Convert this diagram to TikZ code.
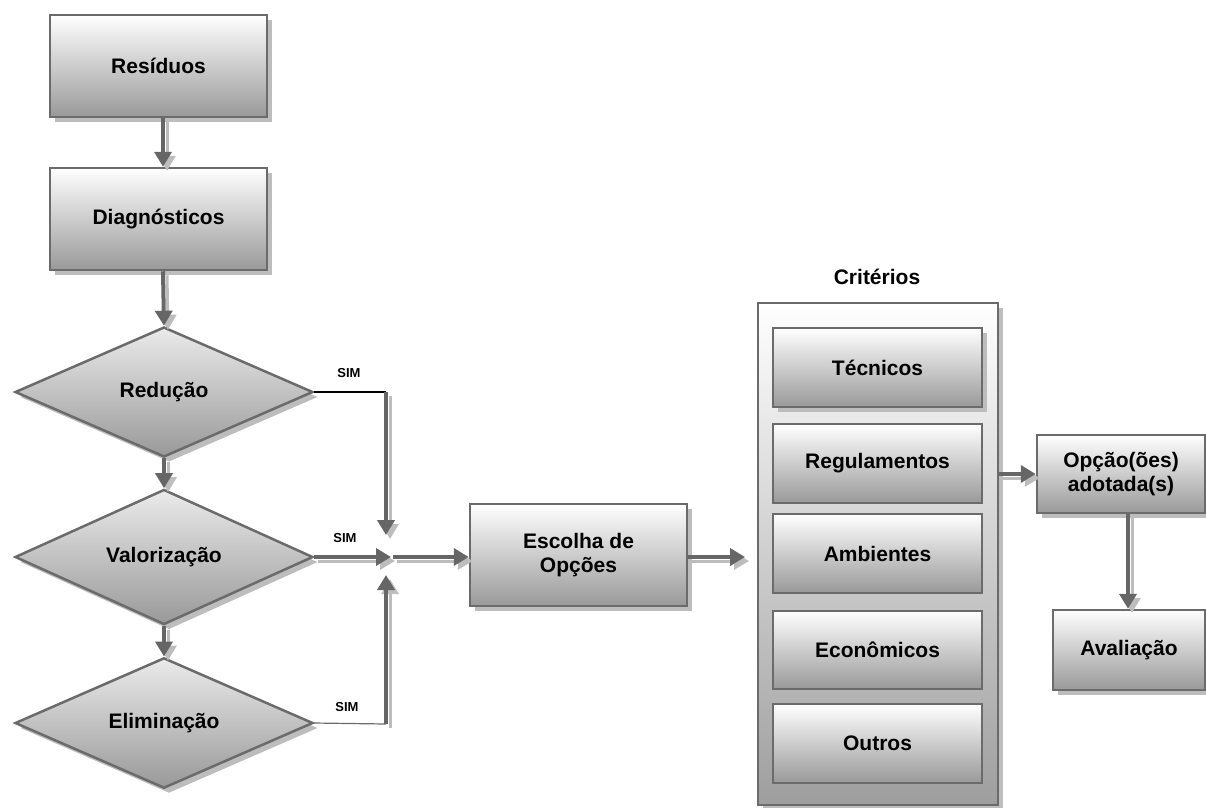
\documentclass[tikz,border=0pt]{standalone}
\usepackage{fontspec}
\setmainfont{Liberation Sans}
\usetikzlibrary{shapes.geometric,shadows,arrows.meta}
\definecolor{edgec}{HTML}{6B6B6B}
\definecolor{connc}{HTML}{666666}
\definecolor{shadc}{HTML}{BDBDBD}
\begin{document}
\begin{tikzpicture}[x=1pt,y=-1pt,
  lbl/.style={font=\fontsize{21}{24}\selectfont\bfseries, align=center, inner sep=0pt},
  shd/.style={drop shadow={shadow xshift=5pt, shadow yshift=-5pt, fill=shadc, opacity=1}},
  boxa/.style={lbl, rectangle, draw=edgec, line width=2.5pt, top color=white, bottom color=black!40},
  dia/.style={lbl, diamond, draw=edgec, line width=2.5pt, top color=white!92!black, bottom color=black!40,
    minimum width=298pt, minimum height=130pt, shd},
  conn/.style={draw=connc, line width=4pt, -{Triangle[length=15pt 0 0,width=17pt 0 0]},
    preaction={draw=shadc, line width=3pt, -{Triangle[length=15pt 0 0,width=17pt 0 0]}, transform canvas={xshift=4pt,yshift=-4pt}}},
  simtxt/.style={font=\fontsize{13}{15}\selectfont\bfseries, inner sep=0pt}
]
\useasboundingbox (0,0) rectangle (1206,807);

% left column
\node[boxa, shd, minimum width=217pt, minimum height=102pt] (res) at (158.5,66) {Resíduos};
\node[boxa, shd, minimum width=217pt, minimum height=102pt] (diag) at (158.5,219) {Diagnósticos};
\node[dia] (red) at (164,392) {Redução};
\node[dia] (val) at (164,557) {Valorização};
\node[dia] (eli) at (164,723) {Eliminação};

\draw[conn] (res.south -| 163,0) -- (diag.north -| 163,0);
\draw[conn] (diag.south -| 163,0) -- (red.north);
\draw[conn] (red.south) -- (val.north);
\draw[conn] (val.south) -- (eli.north);

% middle
\node[boxa, shd, minimum width=217pt, minimum height=102pt] (esc) at (578.5,555) {Escolha de\\Opções};

\coordinate (j1) at (386,392);
\coordinate (t1) at (386,535);
\coordinate (j2) at (386,724);
\coordinate (t3) at (386,575);
\coordinate (t2) at (391,557);
\coordinate (s2) at (393,557);

\draw[black, line width=1.5pt] (red.east) -- (j1);
\draw[conn] (j1) -- (t1);
\draw[edgec, line width=1.2pt] (eli.east) -- (j2);
\draw[conn] (j2) -- (t3);
\draw[conn] (val.east) -- (t2);
\draw[conn] (s2) -- (esc.west |- s2);

\node[simtxt] (sim1) at (349,373) {SIM};
\node[simtxt] (sim2) at (345,538) {SIM};
\node[simtxt] (sim3) at (347,707) {SIM};

% criterios
\node[font=\fontsize{21}{24}\selectfont\bfseries, inner sep=0pt] (crtl) at (877,277) {Critérios};
\node[draw=edgec, line width=2pt, top color=white, bottom color=black!38, minimum width=240pt, minimum height=502pt, inner sep=0pt, shd] (crit) at (877.5,554) {};
\node[boxa, shd, minimum width=209pt, minimum height=79pt] (tec) at (877.5,367.5) {Técnicos};
\node[boxa, minimum width=209pt, minimum height=79pt] (reg) at (877.5,463.5) {Regulamentos};
\node[boxa, minimum width=209pt, minimum height=79pt] (amb) at (877.5,553.5) {Ambientes};
\node[boxa, minimum width=209pt, minimum height=78pt] (eco) at (877.5,650) {Econômicos};
\node[boxa, minimum width=209pt, minimum height=79pt] (out) at (877.5,743.5) {Outros};

\coordinate (tc) at (745,557);
\draw[conn] (esc.east |- tc) -- (tc);

% right
\node[boxa, shd, minimum width=168pt, minimum height=78pt] (opc) at (1121,474) {Opção(ões)\\adotada(s)};
\node[boxa, shd, minimum width=152pt, minimum height=80pt] (aval) at (1129,650) {Avaliação};

\draw[conn] (crit.east |- opc.west) -- (opc.west);
\draw[conn] (opc.south -| 1128,0) -- (aval.north -| 1128,0);
\end{tikzpicture}
\end{document}
